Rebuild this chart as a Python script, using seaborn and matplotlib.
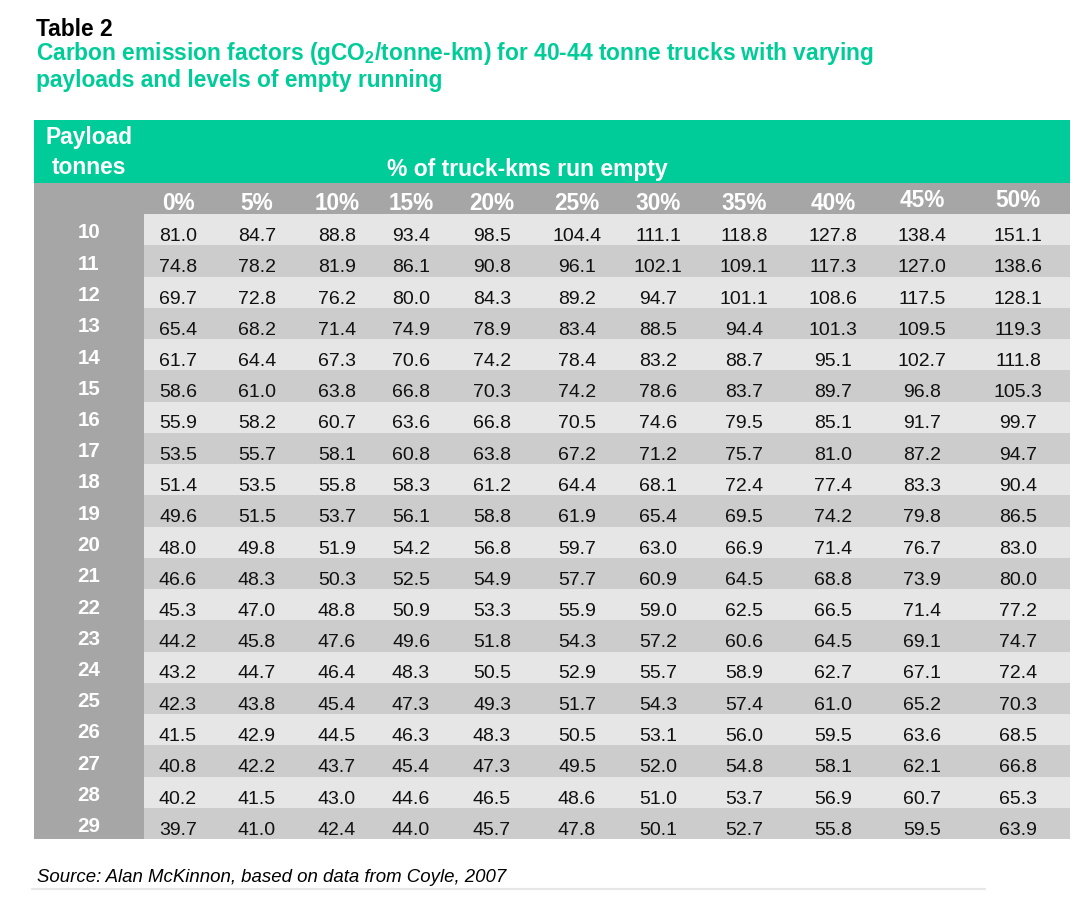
import numpy as np
import pandas as pd
import matplotlib
matplotlib.use("Agg")
import matplotlib.pyplot as plt
import matplotlib.transforms as mtransforms
from matplotlib.patches import Rectangle
from matplotlib.colors import ListedColormap
import seaborn as sns

# ---------------- data ----------------
payload_tonnes = [10, 11, 12, 13, 14, 15, 16, 17, 18, 19,
                  20, 21, 22, 23, 24, 25, 26, 27, 28, 29]
empty_pct = ["0%", "5%", "10%", "15%", "20%", "25%", "30%", "35%", "40%", "45%", "50%"]

row_10 = [81.0, 84.7, 88.8, 93.4, 98.5, 104.4, 111.1, 118.8, 127.8, 138.4, 151.1]
row_11 = [74.8, 78.2, 81.9, 86.1, 90.8, 96.1, 102.1, 109.1, 117.3, 127.0, 138.6]
row_12 = [69.7, 72.8, 76.2, 80.0, 84.3, 89.2, 94.7, 101.1, 108.6, 117.5, 128.1]
row_13 = [65.4, 68.2, 71.4, 74.9, 78.9, 83.4, 88.5, 94.4, 101.3, 109.5, 119.3]
row_14 = [61.7, 64.4, 67.3, 70.6, 74.2, 78.4, 83.2, 88.7, 95.1, 102.7, 111.8]
row_15 = [58.6, 61.0, 63.8, 66.8, 70.3, 74.2, 78.6, 83.7, 89.7, 96.8, 105.3]
row_16 = [55.9, 58.2, 60.7, 63.6, 66.8, 70.5, 74.6, 79.5, 85.1, 91.7, 99.7]
row_17 = [53.5, 55.7, 58.1, 60.8, 63.8, 67.2, 71.2, 75.7, 81.0, 87.2, 94.7]
row_18 = [51.4, 53.5, 55.8, 58.3, 61.2, 64.4, 68.1, 72.4, 77.4, 83.3, 90.4]
row_19 = [49.6, 51.5, 53.7, 56.1, 58.8, 61.9, 65.4, 69.5, 74.2, 79.8, 86.5]
row_20 = [48.0, 49.8, 51.9, 54.2, 56.8, 59.7, 63.0, 66.9, 71.4, 76.7, 83.0]
row_21 = [46.6, 48.3, 50.3, 52.5, 54.9, 57.7, 60.9, 64.5, 68.8, 73.9, 80.0]
row_22 = [45.3, 47.0, 48.8, 50.9, 53.3, 55.9, 59.0, 62.5, 66.5, 71.4, 77.2]
row_23 = [44.2, 45.8, 47.6, 49.6, 51.8, 54.3, 57.2, 60.6, 64.5, 69.1, 74.7]
row_24 = [43.2, 44.7, 46.4, 48.3, 50.5, 52.9, 55.7, 58.9, 62.7, 67.1, 72.4]
row_25 = [42.3, 43.8, 45.4, 47.3, 49.3, 51.7, 54.3, 57.4, 61.0, 65.2, 70.3]
row_26 = [41.5, 42.9, 44.5, 46.3, 48.3, 50.5, 53.1, 56.0, 59.5, 63.6, 68.5]
row_27 = [40.8, 42.2, 43.7, 45.4, 47.3, 49.5, 52.0, 54.8, 58.1, 62.1, 66.8]
row_28 = [40.2, 41.5, 43.0, 44.6, 46.5, 48.6, 51.0, 53.7, 56.9, 60.7, 65.3]
row_29 = [39.7, 41.0, 42.4, 44.0, 45.7, 47.8, 50.1, 52.7, 55.8, 59.5, 63.9]

title_text = "Table 2"
subtitle_line1 = "Carbon emission factors (gCO$_2$/tonne-km) for 40-44 tonne trucks with varying"
subtitle_line2 = "payloads and levels of empty running"
row_header = ["Payload", "tonnes"]
col_header = "% of truck-kms run empty"
source_text = "Source: Alan McKinnon, based on data from Coyle, 2007"

# ---------------- table frame ----------------
values = pd.DataFrame(
    [row_10, row_11, row_12, row_13, row_14, row_15, row_16, row_17, row_18, row_19,
     row_20, row_21, row_22, row_23, row_24, row_25, row_26, row_27, row_28, row_29],
    index=payload_tonnes, columns=empty_pct)
stripes = pd.DataFrame(
    np.repeat((np.arange(len(payload_tonnes)) % 2)[:, None], len(empty_pct), axis=1),
    index=payload_tonnes, columns=empty_pct)

# ---------------- styling ----------------
GREEN = "#00CC99"
GREY = "#A6A6A6"
LIGHT = "#E6E6E6"
DARK = "#CCCCCC"
FONT = ["Liberation Sans", "DejaVu Sans"]

sns.set_theme(style="white")
plt.rcParams["font.family"] = FONT
plt.rcParams["mathtext.default"] = "regular"

W, H = 1089, 900
fig = plt.figure(figsize=(W / 100, H / 100), dpi=100)
fig.patch.set_facecolor("white")


def fx(px):
    return px / W


def fy(py):
    return 1 - py / H


# layout (pixels)
TAB_L, TAB_R = 34, 1070
LBL_R = 144
GREEN_T, GREEN_B = 120, 183
DATA_T, DATA_B = 214, 839
ROW_H = (DATA_B - DATA_T) / len(payload_tonnes)

ax = fig.add_axes([fx(LBL_R), fy(DATA_B), fx(TAB_R) - fx(LBL_R), fy(DATA_T) - fy(DATA_B)])
ax.patch.set_visible(False)

sns.heatmap(stripes, ax=ax, cmap=ListedColormap([LIGHT, DARK]), vmin=0, vmax=1,
            cbar=False, annot=values, fmt=".1f",
            annot_kws=dict(fontsize=14, color="#111111", family=FONT))

# column centres (in column units) to mimic the unequal column widths
col_x = [0.404, 1.342, 2.293, 3.172, 4.134, 5.144, 6.106, 7.128, 8.185, 9.243, 10.382]
n_cols = len(empty_pct)
for k, t in enumerate(ax.texts):
    i, j = divmod(k, n_cols)
    t.set_position((col_x[j], i + 27 / ROW_H))
    t.set_verticalalignment("baseline")
    t.set_color("#111111")

ax.set_xticks([])
ax.set_yticks([])
ax.set_xlabel("")
ax.set_ylabel("")
for s in ax.spines.values():
    s.set_visible(False)

# background blocks
fig.add_artist(Rectangle((fx(TAB_L), fy(GREEN_B)), fx(TAB_R) - fx(TAB_L), fy(GREEN_T) - fy(GREEN_B),
                         transform=fig.transFigure, facecolor=GREEN, edgecolor="none", zorder=-2))
fig.add_artist(Rectangle((fx(TAB_L), fy(DATA_B)), fx(LBL_R) - fx(TAB_L), fy(GREEN_B) - fy(DATA_B),
                         transform=fig.transFigure, facecolor=GREY, edgecolor="none", zorder=-2))
fig.add_artist(Rectangle((fx(LBL_R), fy(DATA_T)), fx(TAB_R) - fx(LBL_R), fy(GREEN_B) - fy(DATA_T),
                         transform=fig.transFigure, facecolor=GREY, edgecolor="none", zorder=-2))

# column header labels
for j, lab in enumerate(empty_pct):
    y_off = -7 if j >= 9 else -4.5
    ax.text(col_x[j], y_off / ROW_H, lab, ha="center", va="baseline", color="white",
            fontsize=16.3, fontweight="bold", clip_on=False)

# row labels
lbl_tr = mtransforms.blended_transform_factory(fig.transFigure, ax.transData)
for i, p in enumerate(payload_tonnes):
    ax.text(fx((TAB_L + LBL_R) / 2), i + 24.5 / ROW_H, str(p), transform=lbl_tr,
            ha="center", va="baseline", color="white", fontsize=14.8, fontweight="bold",
            clip_on=False)

# header texts
fig.text(fx(89), fy(144), row_header[0], ha="center", va="baseline", color="white",
         fontsize=16.4, fontweight="bold")
fig.text(fx(89), fy(174), row_header[1], ha="center", va="baseline", color="white",
         fontsize=16.4, fontweight="bold")
fig.text(fx(527), fy(176), col_header, ha="center", va="baseline", color="white",
         fontsize=16.5, fontweight="bold")

# titles
fig.text(fx(36), fy(36), title_text, ha="left", va="baseline", color="black",
         fontsize=16.4, fontweight="bold")
fig.text(fx(36), fy(60), subtitle_line1, ha="left", va="baseline", color=GREEN,
         fontsize=16.4, fontweight="bold")
fig.text(fx(36), fy(87), subtitle_line2, ha="left", va="baseline", color=GREEN,
         fontsize=16.4, fontweight="bold")

# source + rule
fig.text(fx(37), fy(882), source_text, ha="left", va="baseline", color="black",
         fontsize=13.4, fontstyle="italic")
fig.add_artist(plt.Line2D([fx(32), fx(985)], [fy(889), fy(889)], transform=fig.transFigure,
                          color="#E6E6E6", linewidth=1.5))

fig.savefig("out.png", dpi=100, facecolor="white")
